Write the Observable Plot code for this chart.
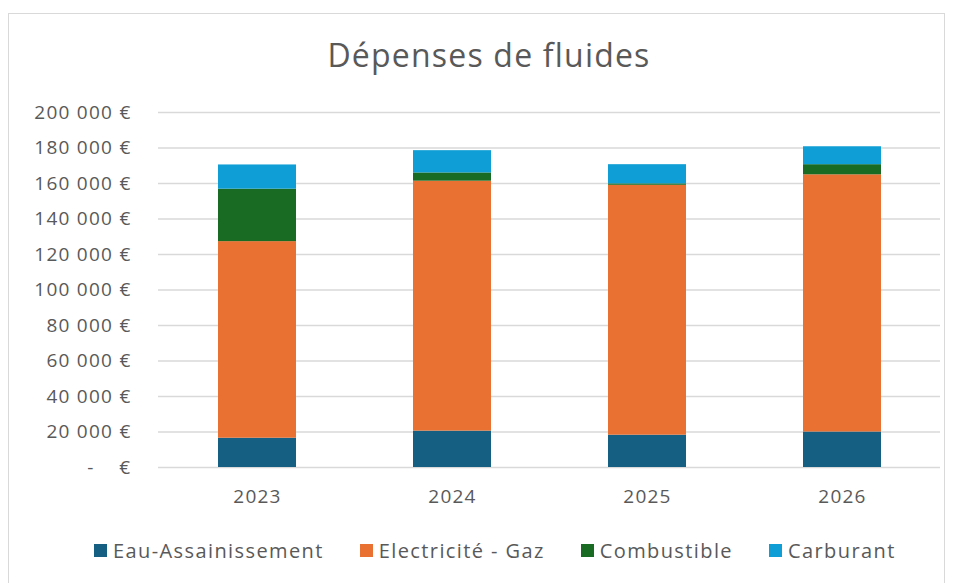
<!DOCTYPE html>
<html>
<head>
<meta charset="utf-8">
<script src="https://cdn.jsdelivr.net/npm/d3@7"></script>
<script src="https://cdn.jsdelivr.net/npm/@observablehq/plot@0.6"></script>
<style>
  html, body { margin: 0; padding: 0; background: #fff; }
  body { width: 955px; height: 583px; position: relative; overflow: hidden; font-family: "Open Sans", "Liberation Sans", sans-serif; }
  #frame { position: absolute; left: 8px; top: 13px; width: 937px; height: 600px; border: 1.5px solid #d9d9d9; box-sizing: border-box; }
  #title { position: absolute; left: 0; width: 978px; top: 33px; text-align: center; font-size: 32px; letter-spacing: 1.2px; color: #595959; line-height: 44px; }
  #chart { position: absolute; left: 0; top: 90px; }
  #chart svg text { white-space: pre; letter-spacing: 1.25px; }
  #legend { position: absolute; left: 94px; top: 537px; display: flex; align-items: center; font-size: 20px; letter-spacing: 1.4px; color: #595959; }
  .item { display: flex; align-items: center; margin-right: 36px; }
  .sw { width: 13px; height: 13px; margin-right: 6px; }
</style>
</head>
<body>
<div id="frame"></div>
<div id="title">Dépenses de fluides</div>
<div id="chart"></div>
<div id="legend"></div>
<script>
const years = ["2023", "2024", "2025", "2026"];
const seriesNames = ["Eau-Assainissement", "Electricité - Gaz", "Combustible", "Carburant"];
const colors = ["#156082", "#E97132", "#196B24", "#0F9ED5"];
const eau = [16500, 20500, 18200, 20000];
const electricite = [110750, 140800, 140800, 144900];
const combustible = [29550, 4650, 800, 5700];
const carburant = [13650, 12550, 10800, 10100];
const yTicks = [0, 20000, 40000, 60000, 80000, 100000, 120000, 140000, 160000, 180000, 200000];

const seriesValues = [eau, electricite, combustible, carburant];
const data = [];
years.forEach((yr, i) => {
  seriesNames.forEach((s, j) => {
    data.push({ year: yr, series: s, value: seriesValues[j][i] });
  });
});

const fmt = d => d === 0 ? "-    €" : d3.format(",")(d).replace(/,/g, " ") + " €";

const chart = Plot.plot({
  width: 955,
  height: 422,
  marginLeft: 158,
  marginRight: 15,
  marginTop: 22,
  marginBottom: 45,
  style: { fontFamily: "'Open Sans', 'Liberation Sans', sans-serif", fontSize: "19px", color: "#595959", background: "transparent" },
  x: { domain: years, paddingInner: 0.6, paddingOuter: 0.3, align: 0.5, label: null, tickSize: 0, tickPadding: 22 },
  y: { domain: [0, 200000], ticks: yTicks, tickFormat: fmt, label: null, tickSize: 0, tickPadding: 27 },
  color: { domain: seriesNames, range: colors },
  marks: [
    Plot.gridY(yTicks, { stroke: "#d9d9d9", strokeOpacity: 1, strokeWidth: 1.3 }),
    Plot.barY(data, { x: "year", y: "value", fill: "series", order: seriesNames }),
    Plot.axisY({ ticks: yTicks, tickFormat: fmt, tickSize: 0, tickPadding: 27, label: null, fill: "#595959" }),
    Plot.axisX({ tickSize: 0, tickPadding: 22, label: null, fill: "#595959" })
  ]
});
document.getElementById("chart").appendChild(chart);

const legend = document.getElementById("legend");
seriesNames.forEach((s, j) => {
  const it = document.createElement("div");
  it.className = "item";
  const sw = document.createElement("div");
  sw.className = "sw";
  sw.style.background = colors[j];
  const lab = document.createElement("span");
  lab.textContent = s;
  it.appendChild(sw);
  it.appendChild(lab);
  legend.appendChild(it);
});
</script>
</body>
</html>
